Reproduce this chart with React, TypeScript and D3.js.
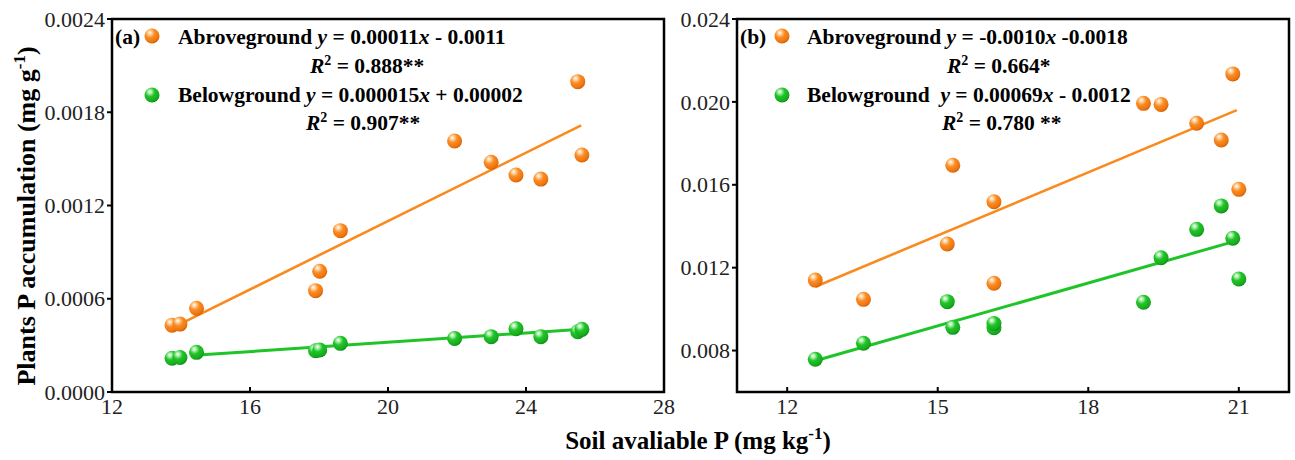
import React from "react";
import * as d3 from "d3";

// ---------- data ----------
const soilPA = [13.74, 13.97, 14.45, 17.9, 18.02, 18.62, 21.93, 22.99, 23.71, 24.43, 25.5, 25.62];
const aboveA = [0.00043, 0.000437, 0.000539, 0.000652, 0.000777, 0.001038, 0.001615, 0.001478, 0.001396, 0.00137, 0.001997, 0.001525];
const belowA = [0.000217, 0.000222, 0.000255, 0.000265, 0.00027, 0.000313, 0.000345, 0.000356, 0.000407, 0.000356, 0.000388, 0.000403];

const soilPB = [12.56, 13.52, 15.19, 15.3, 16.12, 16.12, 19.1, 19.45, 20.16, 20.65, 20.88, 21.0];
const aboveB = [0.0114, 0.01047, 0.01314, 0.01694, 0.01125, 0.01518, 0.01993, 0.01988, 0.01897, 0.01816, 0.02135, 0.01578];
const belowB = [0.00758, 0.00835, 0.01036, 0.00912, 0.0091, 0.0093, 0.01033, 0.01248, 0.01385, 0.01498, 0.01342, 0.01145];

// trend lines: [xStart, xEnd, slope, intercept]
const trendAboveA = [14.1, 25.6, 0.00011, -0.0011];
const trendBelowA = [14.5, 25.6, 0.000015, 0.00002];
const trendAboveB = [12.56, 20.96, 0.001015, -0.00167];
const trendBelowB = [12.56, 20.88, 0.00069, -0.00116];

const xTicksA = [12, 16, 20, 24, 28];
const yTicksA = [0, 0.0006, 0.0012, 0.0018, 0.0024];
const xTicksB = [12, 15, 18, 21];
const yTicksB = [0.008, 0.012, 0.016, 0.02, 0.024];

const ORANGE_LINE = "#FA8A1E";
const GREEN_LINE = "#1EC428";
const FONT = "'Liberation Serif', 'Times New Roman', serif";
const LEG = 21.5;

type PanelProps = {
  left: number;
  right: number;
  top: number;
  bottom: number;
  xDomain: [number, number];
  yDomain: [number, number];
  xTicks: number[];
  yTicks: number[];
  yFmt: (v: number) => string;
  xs: number[];
  above: number[];
  below: number[];
  tAbove: number[];
  tBelow: number[];
};

function Panel(p: PanelProps) {
  const x = d3.scaleLinear().domain(p.xDomain).range([p.left, p.right]);
  const y = d3.scaleLinear().domain(p.yDomain).range([p.bottom, p.top]);
  const line = d3
    .line<[number, number]>()
    .x((d) => x(d[0]))
    .y((d) => y(d[1]));
  const trend = (t: number[]) =>
    line([
      [t[0], t[2] * t[0] + t[3]],
      [t[1], t[2] * t[1] + t[3]],
    ]) as string;
  const r = 7.5;
  return (
    <g>
      <path d={trend(p.tAbove)} stroke={ORANGE_LINE} strokeWidth={2.6} fill="none" />
      <path d={trend(p.tBelow)} stroke={GREEN_LINE} strokeWidth={3} fill="none" />
      {p.xs.map((xv, i) => (
        <circle key={"a" + i} cx={x(xv)} cy={y(p.above[i])} r={r} fill="url(#gOrange)" />
      ))}
      {p.xs.map((xv, i) => (
        <circle key={"b" + i} cx={x(xv)} cy={y(p.below[i])} r={r} fill="url(#gGreen)" />
      ))}
      <rect
        x={p.left}
        y={p.top}
        width={p.right - p.left}
        height={p.bottom - p.top}
        fill="none"
        stroke="#000"
        strokeWidth={2.5}
      />
      {p.xTicks.map((t) => (
        <g key={"xt" + t}>
          <line x1={x(t)} x2={x(t)} y1={p.bottom} y2={p.bottom - 5} stroke="#000" strokeWidth={2} />
          <text x={x(t)} y={414} textAnchor="middle" fontFamily={FONT} fontSize={22} fill="#222">
            {t}
          </text>
        </g>
      ))}
      {p.yTicks.map((t) => (
        <g key={"yt" + t}>
          <line x1={p.left} x2={p.left - 5} y1={y(t)} y2={y(t)} stroke="#000" strokeWidth={2} />
          <text
            x={p.left - 7}
            y={y(t)}
            dy="0.35em"
            textAnchor="end"
            fontFamily={FONT}
            fontSize={22}
            fill="#222"
          >
            {p.yFmt(t)}
          </text>
        </g>
      ))}
    </g>
  );
}

function Sphere({ cx, cy, id }: { cx: number; cy: number; id: string }) {
  return <circle cx={cx} cy={cy} r={7.5} fill={`url(#${id})`} />;
}

function R2({ x, y, value }: { x: number; y: number; value: string }) {
  return (
    <text x={x} y={y} fontFamily={FONT} fontSize={LEG} fontWeight="bold" style={{ whiteSpace: "pre" }}>
      <tspan fontStyle="italic">R</tspan>
      <tspan fontSize={14} dy={-8}>2</tspan>
      <tspan dy={8}>{value}</tspan>
    </text>
  );
}

export default function App() {
  return (
    <svg width={1295} height={460} style={{ position: "absolute", left: 0, top: 0, background: "#fff" }}>
      <defs>
        <radialGradient id="gOrange" cx="38%" cy="32%" r="70%" fx="35%" fy="28%">
          <stop offset="0%" stopColor="#ffffff" />
          <stop offset="18%" stopColor="#ffd2a0" />
          <stop offset="45%" stopColor="#fb8c22" />
          <stop offset="85%" stopColor="#ec7410" />
          <stop offset="100%" stopColor="#d05e00" />
        </radialGradient>
        <radialGradient id="gGreen" cx="38%" cy="32%" r="70%" fx="35%" fy="28%">
          <stop offset="0%" stopColor="#ffffff" />
          <stop offset="18%" stopColor="#a8f0a8" />
          <stop offset="45%" stopColor="#22c42a" />
          <stop offset="85%" stopColor="#16ab1e" />
          <stop offset="100%" stopColor="#0c8a12" />
        </radialGradient>
      </defs>

      <Panel
        left={112}
        right={664}
        top={19}
        bottom={392}
        xDomain={[12, 28]}
        yDomain={[0, 0.0024]}
        xTicks={xTicksA}
        yTicks={yTicksA}
        yFmt={(v) => v.toFixed(4)}
        xs={soilPA}
        above={aboveA}
        below={belowA}
        tAbove={trendAboveA}
        tBelow={trendBelowA}
      />
      <Panel
        left={737}
        right={1289}
        top={19}
        bottom={392}
        xDomain={[11, 22]}
        yDomain={[0.006, 0.024]}
        xTicks={xTicksB}
        yTicks={yTicksB}
        yFmt={(v) => v.toFixed(3)}
        xs={soilPB}
        above={aboveB}
        below={belowB}
        tAbove={trendAboveB}
        tBelow={trendBelowB}
      />

      {/* legend panel a */}
      <text x={115} y={44} fontFamily={FONT} fontSize={LEG} fontWeight="bold">(a)</text>
      <Sphere cx={152} cy={36} id="gOrange" />
      <text x={178} y={44} fontFamily={FONT} fontSize={LEG} fontWeight="bold" style={{ whiteSpace: "pre" }}>
        <tspan>Abroveground </tspan>
        <tspan fontStyle="italic">y</tspan>
        <tspan> = 0.00011</tspan>
        <tspan fontStyle="italic">x</tspan>
        <tspan> - 0.0011</tspan>
      </text>
      <R2 x={310} y={73} value=" = 0.888**" />
      <Sphere cx={152} cy={95} id="gGreen" />
      <text x={178} y={102} fontFamily={FONT} fontSize={LEG} fontWeight="bold" style={{ whiteSpace: "pre" }}>
        <tspan>Belowground </tspan>
        <tspan fontStyle="italic">y</tspan>
        <tspan> = 0.000015</tspan>
        <tspan fontStyle="italic">x</tspan>
        <tspan> + 0.00002</tspan>
      </text>
      <R2 x={306} y={130} value=" = 0.907**" />

      {/* legend panel b */}
      <text x={740} y={44} fontFamily={FONT} fontSize={LEG} fontWeight="bold">(b)</text>
      <Sphere cx={782} cy={36} id="gOrange" />
      <text x={807} y={44} fontFamily={FONT} fontSize={LEG} fontWeight="bold" style={{ whiteSpace: "pre" }}>
        <tspan>Abroveground </tspan>
        <tspan fontStyle="italic">y</tspan>
        <tspan> = -0.0010</tspan>
        <tspan fontStyle="italic">x</tspan>
        <tspan> -0.0018</tspan>
      </text>
      <R2 x={947} y={73} value=" = 0.664*" />
      <Sphere cx={782} cy={95} id="gGreen" />
      <text x={807} y={102} fontFamily={FONT} fontSize={LEG} fontWeight="bold" style={{ whiteSpace: "pre" }}>
        <tspan>Belowground  </tspan>
        <tspan fontStyle="italic">y</tspan>
        <tspan> = 0.00069</tspan>
        <tspan fontStyle="italic">x</tspan>
        <tspan> - 0.0012</tspan>
      </text>
      <R2 x={942} y={130} value=" = 0.780 **" />

      {/* axis titles */}
      <text
        transform="translate(35,216) rotate(-90)"
        textAnchor="middle"
        fontFamily={FONT}
        fontSize={26}
        fontWeight="bold"
      >
        Plants P accumulation (mg g<tspan fontSize={17} dy={-10}>-1</tspan>
        <tspan dy={10}>)</tspan>
      </text>
      <text x={698} y={449} textAnchor="middle" fontFamily={FONT} fontSize={25} fontWeight="bold">
        Soil avaliable P (mg kg<tspan fontSize={17} dy={-10}>-1</tspan>
        <tspan dy={10}>)</tspan>
      </text>
    </svg>
  );
}
